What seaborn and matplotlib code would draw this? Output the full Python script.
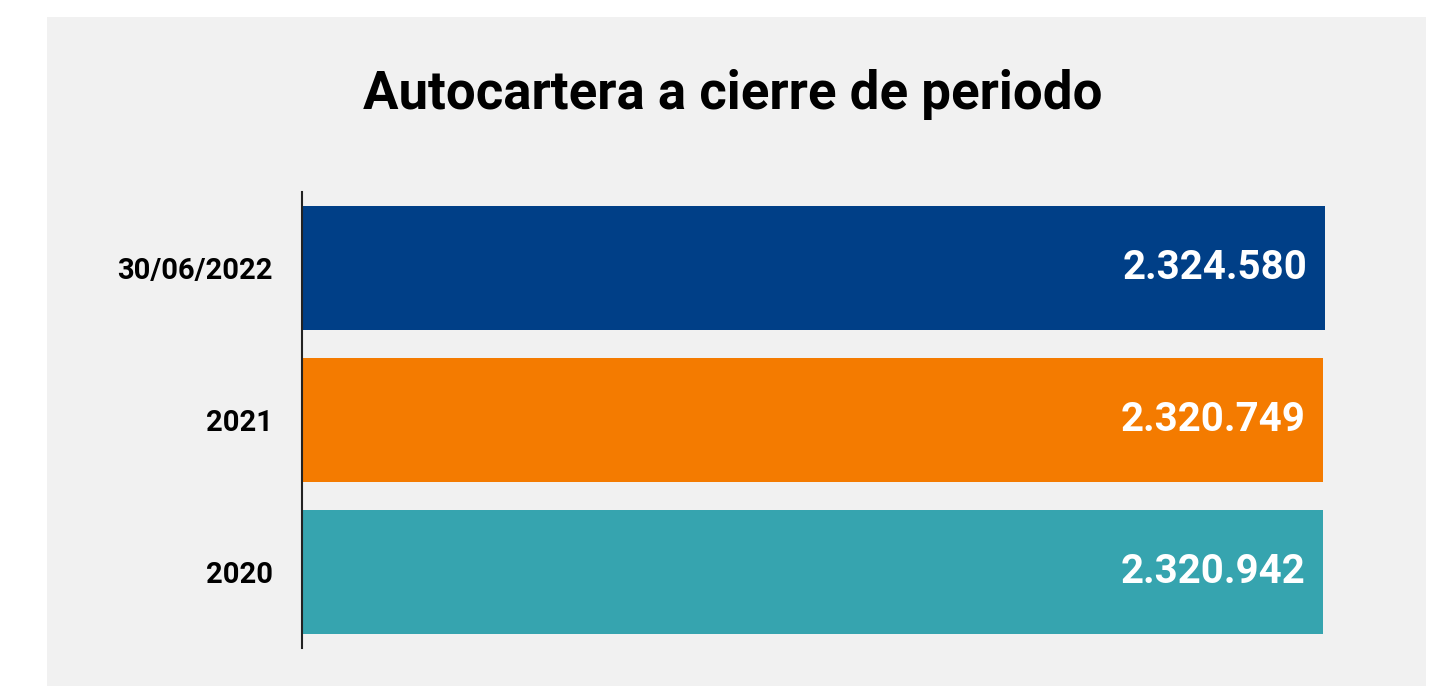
import matplotlib
matplotlib.use("Agg")
import matplotlib.pyplot as plt
import seaborn as sns
import pandas as pd
from matplotlib.patches import Rectangle

categories = ["30/06/2022", "2021", "2020"]
values = [2324580, 2320749, 2320942]
labels = ["2.324.580", "2.320.749", "2.320.942"]
colors = ["#003F87", "#F47B00", "#36A4AF"]
title = "Autocartera a cierre de periodo"

sns.set_style("white")
plt.rcParams["font.family"] = ["Roboto", "DejaVu Sans"]

W, H = 1444, 686
fig = plt.figure(figsize=(W / 100, H / 100), dpi=100, facecolor="white")
fig.patches.append(Rectangle((47 / W, 0), (1426 - 47) / W, (686 - 17) / H,
                             transform=fig.transFigure, facecolor="#F1F1F1",
                             edgecolor="none", zorder=-10))

ax = fig.add_axes([302 / W, (H - 648) / H, (1325 - 302) / W, (648 - 192) / H])
ax.set_facecolor("none")
ax.patch.set_alpha(0)

df = pd.DataFrame({"cat": categories, "val": values})
sns.barplot(data=df, y="cat", x="val", hue="cat", palette=colors, legend=False,
            width=0.82, orient="h", ax=ax, saturation=1, linewidth=0)
ax.set_xlim(0, max(values))
ax.set_ylim(2.5, -0.5)

for i, (v, lab) in enumerate(zip(values, labels)):
    ax.annotate(lab, xy=(v, i), xytext=(-18, 0), textcoords="offset pixels",
                ha="right", va="center", color="white", fontsize=29,
                fontweight="bold")

ax.set_xlabel("")
ax.set_ylabel("")
ax.set_xticks([])
ax.tick_params(axis="y", length=0, pad=21, labelsize=21, labelcolor="black")
for t in ax.get_yticklabels():
    t.set_fontweight("bold")
for s in ["top", "right", "bottom"]:
    ax.spines[s].set_visible(False)
ax.spines["left"].set_color("#222222")
ax.spines["left"].set_linewidth(1.5)

fig.text(733 / W, 1 - 95 / H, title, ha="center", va="center",
         fontsize=38, fontweight="bold", color="black")

fig.savefig("out.png", dpi=100, facecolor="white")
